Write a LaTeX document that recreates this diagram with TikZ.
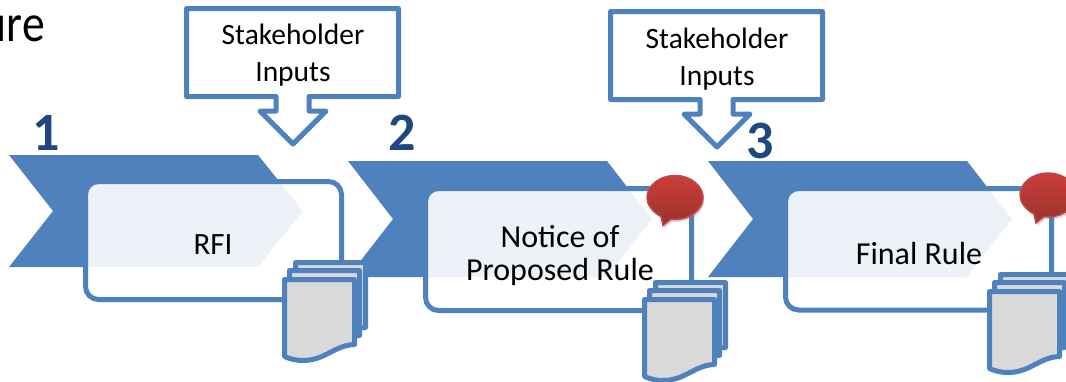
\documentclass[tikz,border=0pt]{standalone}
\usepackage{fontspec}
\setmainfont{Carlito}
\usetikzlibrary{shadows}
\definecolor{blu}{HTML}{4F81BD}
\definecolor{dkblu}{HTML}{1F497D}
\definecolor{sheet}{HTML}{D9D9D9}
\definecolor{bubbletop}{HTML}{CB3E3A}
\definecolor{bubblebot}{HTML}{9A312E}
\definecolor{bubbleedge}{HTML}{BE4B48}
\tikzset{
  chev/.style={fill=blu,draw=none},
  panel/.style={draw=blu,line width=5pt,rounded corners=13pt,fill=white,fill opacity=0.9,draw opacity=1},
  call/.style={draw=blu,line width=5pt,fill=white,line join=round},
  lab/.style={anchor=base,text=black,font=\fontsize{29.5}{34}\selectfont,inner sep=0pt},
  plab/.style={anchor=base,text=black,font=\fontsize{32}{38}\selectfont,inner sep=0pt},
  num/.style={anchor=base,text=dkblu,font=\fontsize{54}{60}\selectfont\bfseries,inner sep=0pt},
  page/.style={draw=blu,line width=5pt,fill=sheet,line join=round},
  bubble/.style={draw=bubbleedge,line width=1.5pt,top color=bubbletop,bottom color=bubblebot,drop shadow={shadow xshift=1.5pt,shadow yshift=-2.5pt,opacity=.3}},
}
\newcommand{\chevron}[5]{%
  \fill[chev] (#1,#4) -- (#3,#4) -- (#3+45,#4/2+#5/2) -- (#3,#5) -- (#1,#5) -- (#2,#4/2+#5/2) -- cycle;}
\newcommand{\docstack}[2]{%
  \begin{scope}[shift={(#1,#2)}]
    \foreach \dx/\dy in {11/-17,5/-9,0/0}{
      \draw[page] (284.5+\dx,279.5+\dy) -- (354.5+\dx,279.5+\dy) -- (354.5+\dx,344.5+\dy)
        .. controls (335+\dx,345+\dy) and (325+\dx,360.5+\dy) .. (303+\dx,360.5+\dy)
        .. controls (296+\dx,360.5+\dy) and (290+\dx,359+\dy) .. (284.5+\dx,356.5+\dy) -- cycle;
    }
  \end{scope}}
\newcommand{\callout}[2]{%
  \begin{scope}[shift={(#1,#2)}]
    \draw[call] (186.5,8.5) -- (398.5,8.5) -- (398.5,96.5) -- (309,96.5) -- (309,111) -- (326,111)
      -- (293,144) -- (260,111) -- (276,111) -- (276,96.5) -- (186.5,96.5) -- cycle;
  \end{scope}}
\newcommand{\speech}[2]{%
  \begin{scope}[shift={(#1,#2)}]
    \draw[bubble] (-14,19) .. controls (-23,14) and (-28,7) .. (-28,0)
      .. controls (-28,-12) and (-15.4,-22) .. (0,-22)
      .. controls (15.4,-22) and (28,-12) .. (28,0)
      .. controls (28,12) and (15.4,22) .. (0,22)
      .. controls (-1,22) and (-2,22) .. (-4,21.7) -- (-12,28) -- cycle;
  \end{scope}}
\begin{document}
\begin{tikzpicture}[x=1pt,y=-1pt]
\useasboundingbox (0,0) rectangle (1066,381);
\clip (0,0) rectangle (1066,381);
\node[anchor=base east,inner sep=0pt,text=black,font=\fontsize{53}{60}\selectfont] (title) at (45,41) {\scalebox{.86}[1]{ure}};
% step 1
\chevron{9}{53}{258}{155}{267}
\draw[panel] (85.5,181.5) rectangle (341.5,299.5);
\callout{0}{0}
\node[lab] (in1a) at (293,44) {Stakeholder};
\node[lab] (in1b) at (293,81) {Inputs};
\node[num] (n1) at (46,150) {1};
\node[plab,font=\fontsize{31}{38}\selectfont] (rfi) at (213,254) {RFI};
% step 2
\chevron{348}{393}{607}{161}{277}
\draw[panel] (425.5,188.5) rectangle (691.5,310.5);
\docstack{0}{0}
\node[num] (n2) at (402,150) {2};
\node[plab] (nop1) at (560,247) {Notice of};
\node[plab] (nop2) at (560,280) {Proposed Rule};
\speech{675}{197.5}
\docstack{360}{20}
% step 3
\chevron{708}{753}{967}{161}{277}
\draw[panel] (785.5,188.5) rectangle (1051.5,310);
\callout{424}{3}
\node[lab] (in2a) at (717,48) {Stakeholder};
\node[lab] (in2b) at (717,85) {Inputs};
\node[num] (n3) at (760,158) {3};
\node[plab] (fin) at (919,264) {Final Rule};
\speech{1048}{195}
\docstack{705}{12}
\end{tikzpicture}
\end{document}
